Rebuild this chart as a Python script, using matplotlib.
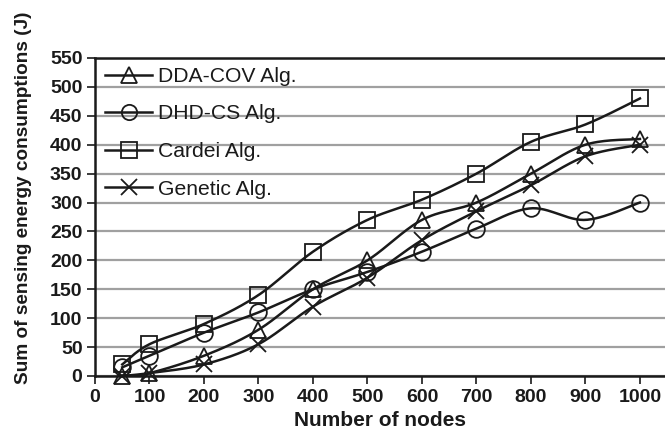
import numpy as np
import matplotlib
matplotlib.use("Agg")
import matplotlib.pyplot as plt
from matplotlib.lines import Line2D

nodes = [50, 100, 200, 300, 400, 500, 600, 700, 800, 900, 1000]
dda_cov = [0, 5, 35, 80, 150, 200, 270, 300, 350, 400, 410]
dhd_cs = [15, 35, 75, 110, 150, 180, 215, 255, 290, 270, 300]
cardei = [20, 55, 90, 140, 215, 270, 305, 350, 405, 435, 480]
genetic = [0, 5, 20, 55, 120, 170, 235, 285, 330, 380, 400]
labels = ["DDA-COV Alg.", "DHD-CS Alg.", "Cardei Alg.", "Genetic Alg."]
markers = ["^", "o", "s", "x"]
xticks = list(range(0, 1001, 100))
yticks = list(range(0, 551, 50))

plt.rcParams['font.family'] = ['Liberation Sans', 'DejaVu Sans']
INK = '#1a1a1a'


def smooth(xs, ys, n=30):
    # Catmull-Rom style smoothing between data points (for drawing only)
    x = np.asarray(xs, float)
    y = np.asarray(ys, float)
    px = np.concatenate([[x[0]], x, [x[-1]]])
    py = np.concatenate([[y[0]], y, [y[-1]]])
    outx, outy = [], []
    for i in range(1, len(px) - 2):
        p0 = np.array([px[i - 1], py[i - 1]])
        p1 = np.array([px[i], py[i]])
        p2 = np.array([px[i + 1], py[i + 1]])
        p3 = np.array([px[i + 2], py[i + 2]])
        c1 = p1 + (p2 - p0) / 6.0
        c2 = p2 - (p3 - p1) / 6.0
        t = np.linspace(0, 1, n)[:, None]
        pts = ((1 - t) ** 3) * p1 + 3 * ((1 - t) ** 2) * t * c1 + 3 * (1 - t) * t ** 2 * c2 + t ** 3 * p2
        outx.extend(pts[:, 0])
        outy.extend(pts[:, 1])
    return outx, outy


fig = plt.figure(figsize=(6.65, 4.4), dpi=100)
ax = fig.add_axes([95 / 665, 1 - 376 / 440, 1 - 95 / 665, (376 - 58) / 440])

series = [dda_cov, dhd_cs, cardei, genetic]
for ys, m in zip(series, markers):
    sx, sy = smooth(nodes, ys)
    ax.plot(sx, sy, color=INK, lw=1.8, zorder=3, clip_on=False)
    ax.plot(nodes, ys, linestyle='none', marker=m, markersize=12 if m != 'x' else 11,
            markerfacecolor='none', markeredgecolor=INK, markeredgewidth=1.3,
            zorder=4, clip_on=False)

ax.set_xlim(0, 1046)
ax.set_ylim(0, 550)
ax.set_xticks(xticks)
ax.set_yticks(yticks)
ax.yaxis.grid(True, color='#a0a0a0', lw=1.6)
ax.set_axisbelow(True)
for s in ['left', 'bottom', 'top']:
    ax.spines[s].set_linewidth(1.8)
    ax.spines[s].set_color(INK)
ax.spines['right'].set_visible(False)
ax.tick_params(direction='out', length=6, width=1.2, color=INK, labelsize=14, pad=3)
for lab in ax.get_xticklabels() + ax.get_yticklabels():
    lab.set_fontweight('bold')
    lab.set_color(INK)
ax.set_xlabel("Number of nodes", fontsize=15, fontweight='bold', color=INK, labelpad=4)
ax.set_ylabel("Sum of sensing energy consumptions (J)", fontsize=13.7, fontweight='bold',
              color=INK, va='center')
ax.yaxis.set_label_coords(-0.1246, 0.56)

handles = [Line2D([], [], color=INK, lw=1.8, marker=m, markersize=11 if m != 'x' else 11,
                  markerfacecolor='none', markeredgewidth=1.3) for m in markers]
leg = ax.legend(handles, labels, loc='upper left', bbox_to_anchor=(0.0175, 0.972), frameon=False,
                fontsize=15.2, handlelength=2.24, handletextpad=0.25, labelspacing=0.88,
                borderaxespad=0, borderpad=0)
for t in leg.get_texts():
    t.set_color(INK)

fig.savefig("out.png", dpi=100)
